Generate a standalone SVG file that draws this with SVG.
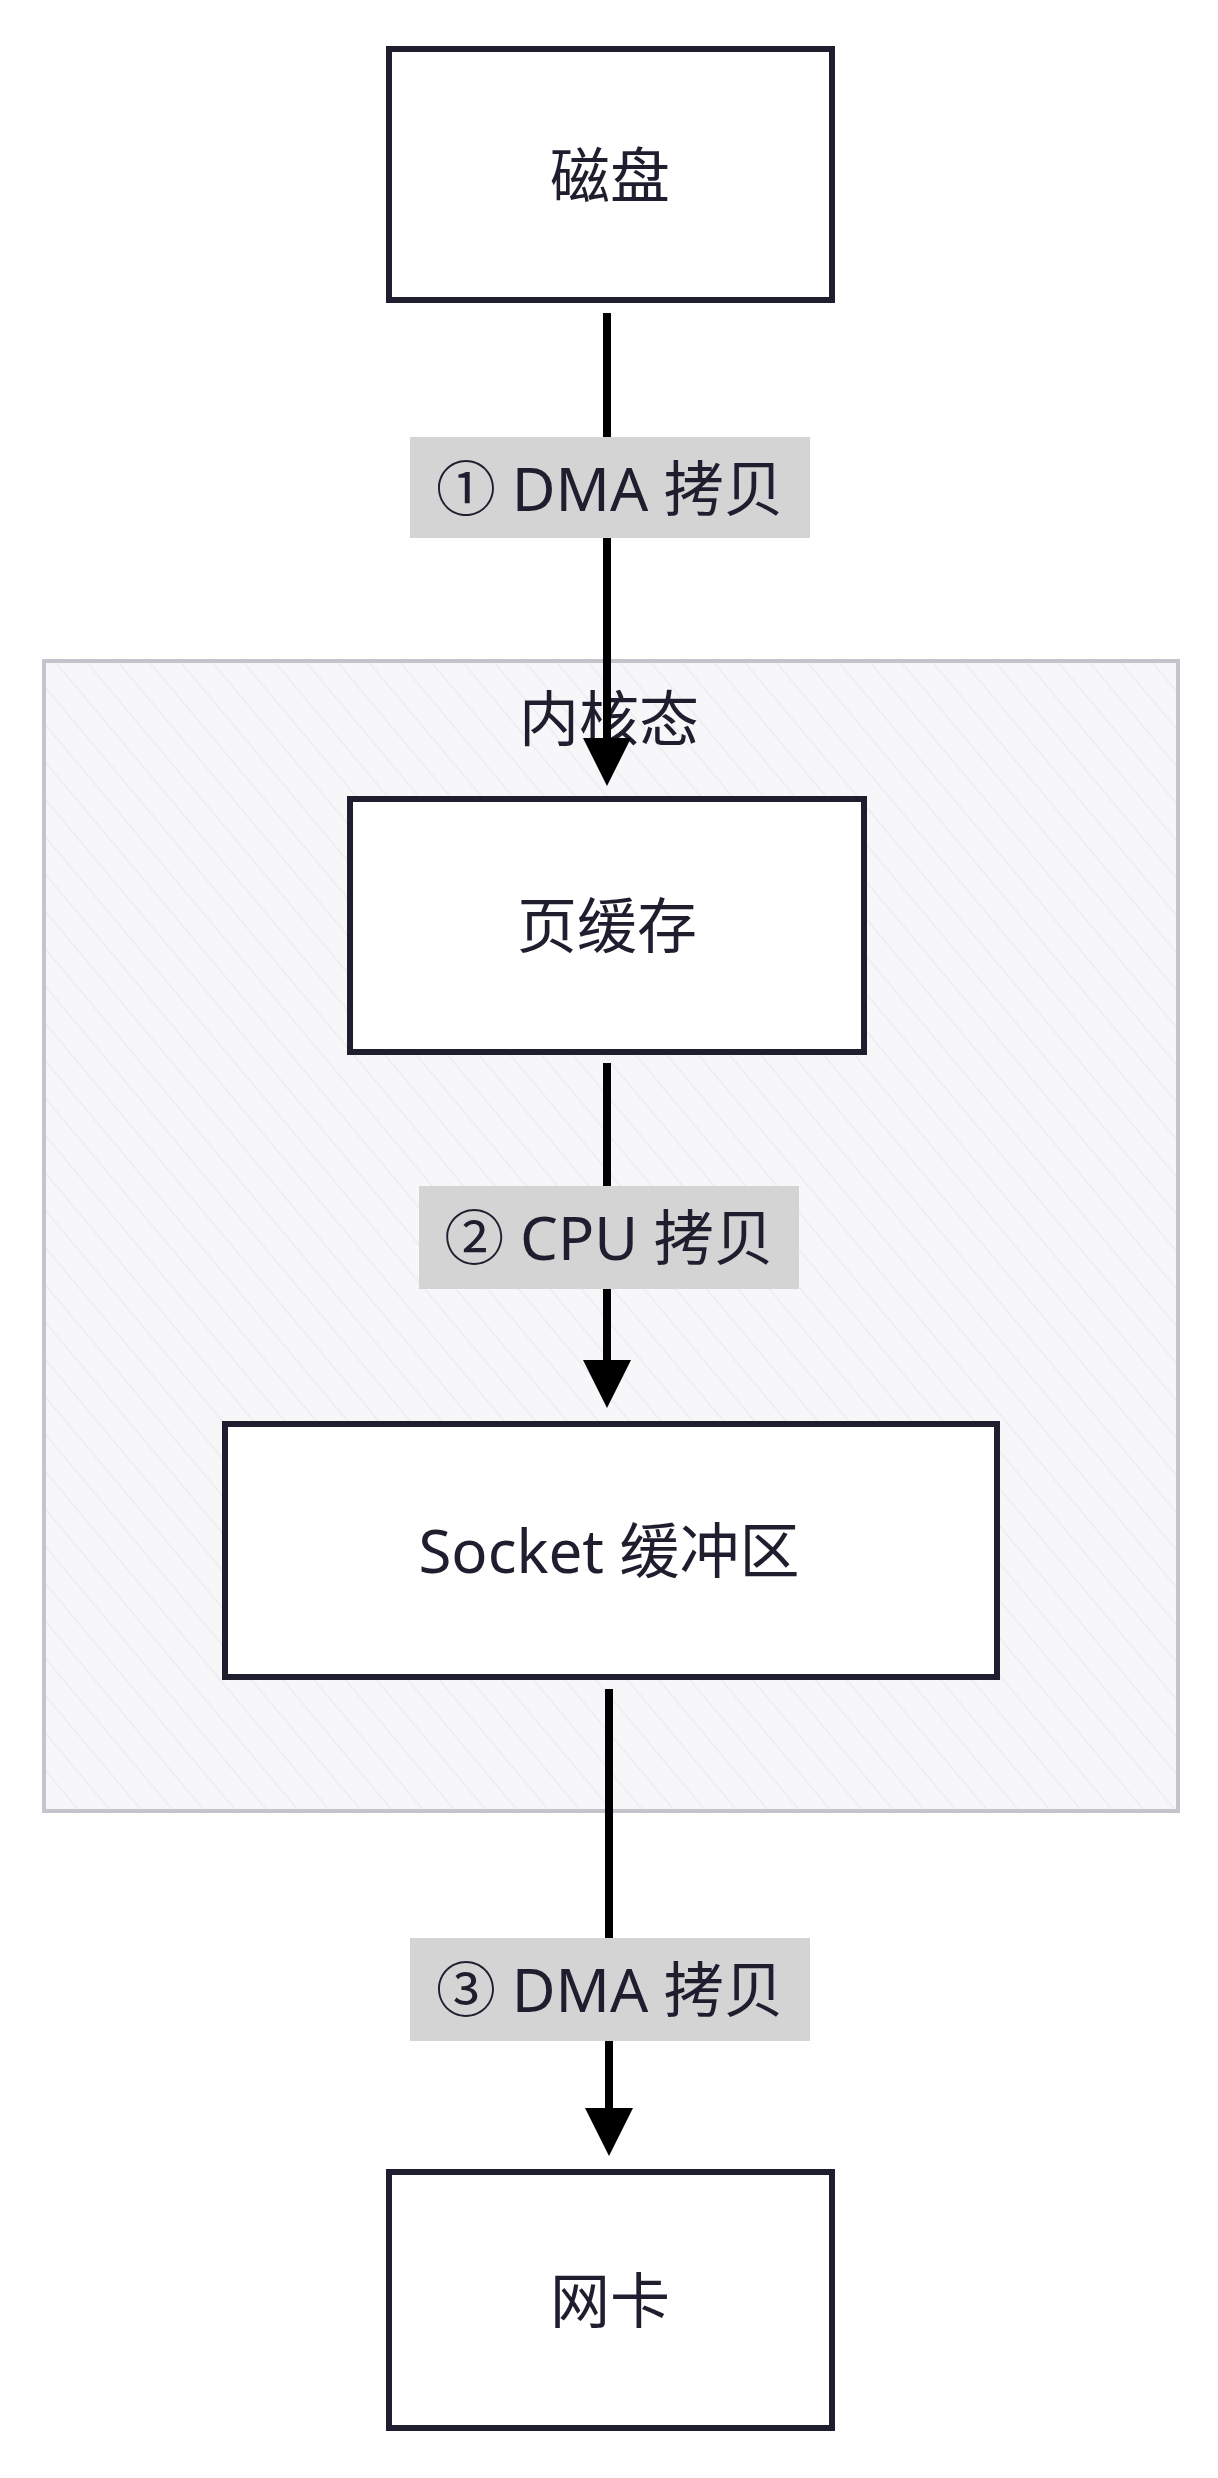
<svg xmlns="http://www.w3.org/2000/svg" width="1218" height="2478" viewBox="0 0 1218 2478">
<style>
.box{fill:#fff;stroke:#1e1e2e;stroke-width:6}
.t{font-family:"Noto Sans","Noto Sans CJK SC",sans-serif;font-size:60px;fill:#1e1e2e;text-anchor:middle;dominant-baseline:central}
.lbg{fill:#d4d4d4}
.ln{stroke:#000;stroke-width:8;fill:none}
</style>
<defs>
<marker id="ah" markerWidth="6" markerHeight="6" refX="5" refY="3" orient="auto" markerUnits="strokeWidth"><path d="M0,0 L6,3 L0,6 Z" fill="#000"/></marker>
<pattern id="hatch" width="24" height="24" patternUnits="userSpaceOnUse" patternTransform="rotate(-40)"><rect width="24" height="24" fill="#f7f7f9"/><line x1="0" y1="0" x2="0" y2="24" stroke="#ececf0" stroke-width="3"/></pattern>
</defs>
<g id="kernel"><rect x="44" y="661" width="1134" height="1150" fill="url(#hatch)" stroke="#c4c4cc" stroke-width="4"/><text class="t" x="609" y="718">内核态</text></g>
<g id="disk"><rect class="box" x="389" y="49" width="443" height="251"/><text class="t" x="610" y="175">磁盘</text></g>
<g id="pagecache"><rect class="box" x="350" y="799" width="514" height="253"/><text class="t" x="607" y="925">页缓存</text></g>
<g id="socket"><rect class="box" x="225" y="1424" width="772" height="253"/><text class="t" x="609" y="1550">Socket 缓冲区</text></g>
<g id="nic"><rect class="box" x="389" y="2172" width="443" height="256"/><text class="t" x="610" y="2300">网卡</text></g>
<g id="connectors">
<line class="ln" x1="607" y1="313" x2="607" y2="778" marker-end="url(#ah)"/>
<line class="ln" x1="607" y1="1063" x2="607" y2="1400" marker-end="url(#ah)"/>
<line class="ln" x1="609" y1="1689" x2="609" y2="2148" marker-end="url(#ah)"/>
<rect class="lbg" x="410" y="437" width="400" height="101"/><text class="t" x="610" y="488">① DMA 拷贝</text>
<rect class="lbg" x="419" y="1186" width="380" height="103"/><text class="t" x="609" y="1237">② CPU 拷贝</text>
<rect class="lbg" x="410" y="1938" width="400" height="103"/><text class="t" x="610" y="1989">③ DMA 拷贝</text>
</g>
</svg>
